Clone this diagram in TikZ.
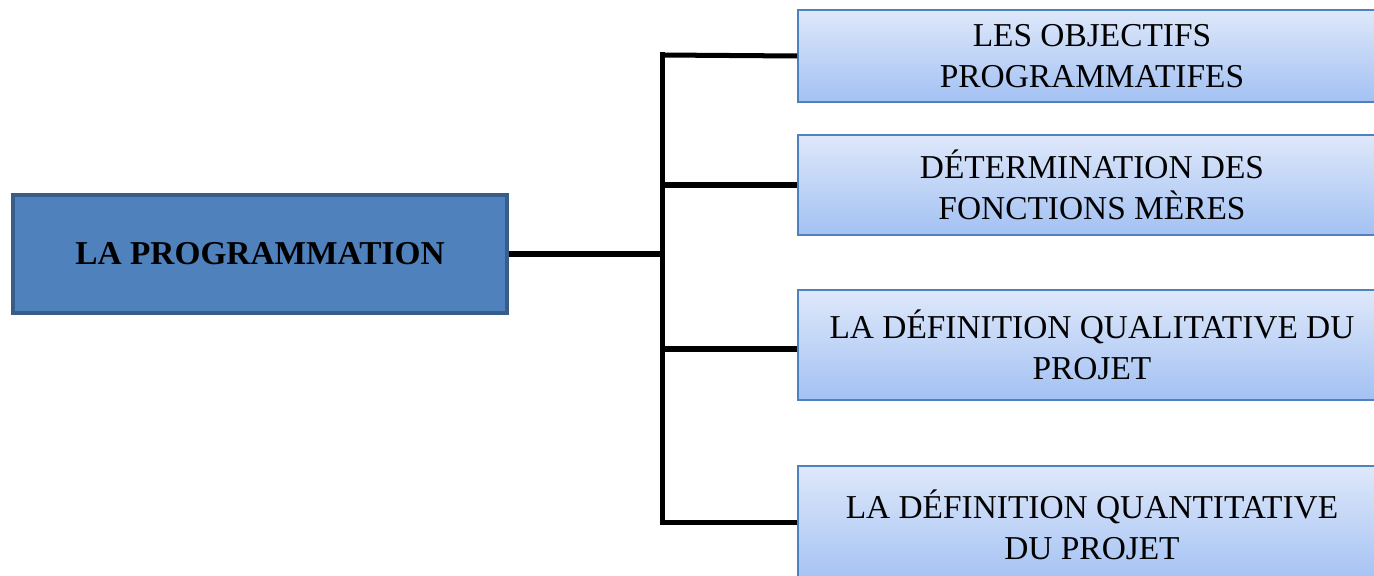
\documentclass[tikz,border=0pt]{standalone}
\usepackage{fontspec}
\setmainfont{Liberation Serif}
\usepackage{xcolor}
\usepackage{tikz}

\definecolor{mainfill}{HTML}{4F81BD}
\definecolor{mainline}{HTML}{385D8A}
\definecolor{subtop}{HTML}{DEE8FA}
\definecolor{subbot}{HTML}{A3C1F3}

\begin{document}
\begin{tikzpicture}[every node/.style={align=center, inner sep=2pt, font=\fontsize{19}{23.5}\selectfont},
  mainbox/.style={draw=mainline, line width=2.2pt, fill=mainfill, minimum width=9.88cm, minimum height=2.36cm, font=\fontsize{19}{23.5}\selectfont\bfseries},
  subbox/.style={draw=mainfill, line width=0.9pt, top color=subtop, bottom color=subbot, minimum width=11.76cm},
  link/.style={line width=2.85pt}]
\clip (0,0) rectangle (27.48,-11.52);

\node[mainbox] (prog) at (5.2,-5.08) {LA PROGRAMMATION};

\node[subbox, minimum height=1.84cm] (obj) at (21.84,-1.12) {LES OBJECTIFS\\PROGRAMMATIFES};
\node[subbox, minimum height=2.0cm] (fonc) at (21.84,-3.7) {DÉTERMINATION DES\\FONCTIONS MÈRES};
\node[subbox, minimum height=2.2cm] (qual) at (21.84,-6.9) {LA DÉFINITION QUALITATIVE DU\\PROJET};
\node[subbox, minimum height=2.36cm] (quant) at (21.84,-10.5) {LA DÉFINITION QUANTITATIVE\\DU PROJET};

\coordinate (bus) at (13.24,-5.08);
\coordinate (bustop) at (13.24,-1.1);
\coordinate (busbot) at (13.24,-10.44);

\draw[link] (prog) -- (bus);
\draw[link, line cap=rect] (bustop) -- (busbot);

\draw[link] (bustop) -- (obj.west);
\draw[link] (fonc.west -| bus) -- (fonc.west);
\draw[link] (13.24,-6.98) -- (qual.west |- 0,-6.98);
\draw[link] (busbot) -- (quant.west |- busbot);
\end{tikzpicture}
\end{document}
